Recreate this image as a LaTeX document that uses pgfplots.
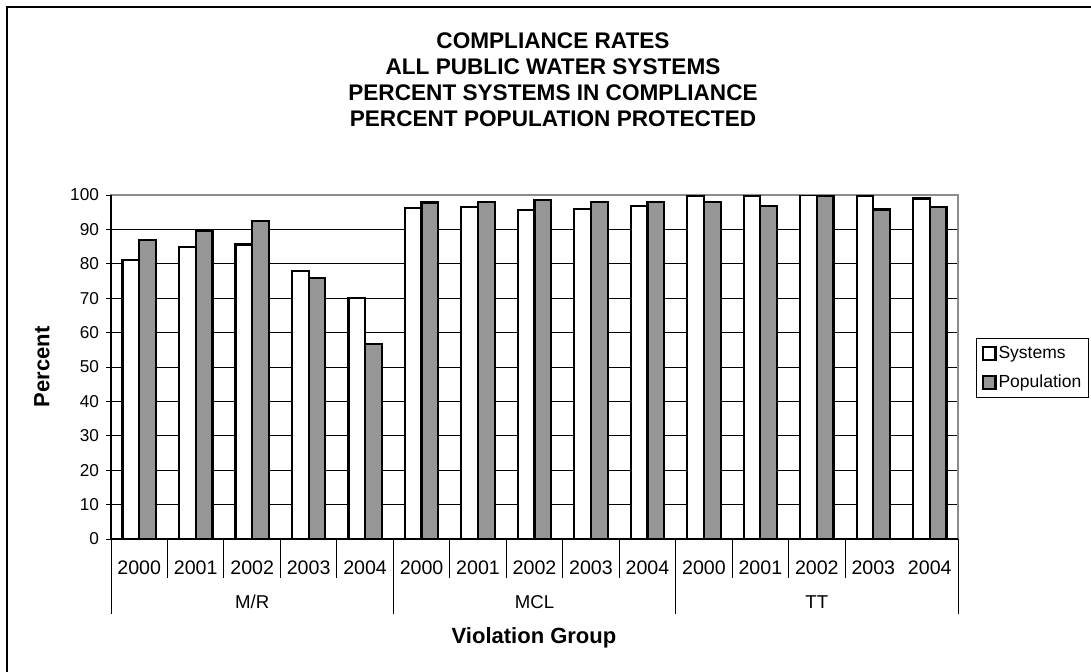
\documentclass[border=0pt]{standalone}
\usepackage{fontspec}
\setmainfont{Liberation Sans}
\usepackage{pgfplots}
\usepackage{pgfplotstable}
\pgfplotsset{compat=1.18}
\definecolor{barfill}{RGB}{150,150,150}
\definecolor{plotframe}{RGB}{140,140,140}

% Compliance rates by violation group and year
\pgfplotstableread{
x sys pop
0 81.0 87.0
1 84.9 89.5
2 85.6 92.4
3 77.8 75.9
4 70.1 56.7
5 96.3 97.8
6 96.6 97.9
7 95.6 98.5
8 96.0 97.9
9 96.9 98.0
10 99.6 98.0
11 99.6 96.8
12 99.9 99.7
13 99.6 95.8
14 99.0 96.4
}\datatable

\begin{document}
\begin{tikzpicture}[x=0.5pt,y=-0.5pt]
\useasboundingbox (0,0) rectangle (1091,671);
\draw[line width=1pt] (7,7) rectangle (1120,700);

\node[align=center, font=\fontsize{11.3}{13}\selectfont\bfseries] at (553,80)
  {COMPLIANCE RATES\\ALL PUBLIC WATER SYSTEMS\\PERCENT SYSTEMS IN COMPLIANCE\\PERCENT POPULATION PROTECTED};

\coordinate (plotSW) at (111,539);
\begin{axis}[
  at={(plotSW)}, anchor=south west,
  scale only axis, width=423.5pt, height=172pt,
  ybar=0pt, bar width=8.35pt,
  xmin=-0.5, xmax=14.5, ymin=0, ymax=100,
  ytick={0,10,...,100},
  xtick={0,...,14},
  xticklabels={2000,2001,2002,2003,2004,2000,2001,2002,2003,2004,2000,2001,2002,2003,2004},
  xtick style={draw=none},
  xticklabel style={anchor=center, font=\fontsize{9.8}{11}\selectfont},
  xticklabel shift=12pt,
  yticklabel style={font=\fontsize{8.6}{10}\selectfont},
  /pgf/number format/assume math mode=true,
  ymajorgrids,
  major grid style={black, line width=0.5pt},
  axis line style={draw=plotframe, line width=1pt},
  ytick pos=left, tick align=outside, major tick length=2.5pt,
  ytick style={black, line width=0.5pt},
  legend style={at={(1.0213,0.584)}, anchor=north west, draw=black, line width=0.5pt,
    font=\fontsize{8.75}{10}\selectfont, inner sep=2.5pt, row sep=4.5pt,
    nodes={inner sep=1pt, text height=6.5pt, text depth=1.5pt}},
  legend cell align=left,
  legend image code/.code={\draw[#1] (0pt,-3.2pt) rectangle (6.4pt,3.2pt);},
]
\addplot[draw=black, fill=white, line width=1.1pt] table[x=x,y=sys]{\datatable};
\addlegendentry{Systems}
\addplot[draw=black, fill=barfill, line width=1.1pt] table[x=x,y=pop]{\datatable};
\addlegendentry{Population}
\end{axis}

% axis lines and category separators
\draw[black, line width=0.75pt] (111,195) -- (111,539) -- (958,539);
\foreach \k in {1,2,3,4,6,7,8,9,11,12,13}
  \draw[black, line width=0.5pt] ({111+\k*56.4667},539) -- ++(0,39);
\foreach \k in {0,5,10,15}
  \draw[black, line width=0.5pt] ({111+\k*56.4667},539) -- ++(0,75);

\node[font=\fontsize{9.3}{10}\selectfont] at ({111+2.5*56.4667},602) {M/R};
\node[font=\fontsize{9.3}{10}\selectfont] at ({111+7.5*56.4667},602) {MCL};
\node[font=\fontsize{9.3}{10}\selectfont] at ({111+12.5*56.4667},602) {TT};

\node[font=\fontsize{11}{12}\selectfont\bfseries] at (534,638) {Violation Group};
\node[font=\fontsize{11}{12}\selectfont\bfseries, rotate=90] at (42,367) {Percent};
\end{tikzpicture}
\end{document}
